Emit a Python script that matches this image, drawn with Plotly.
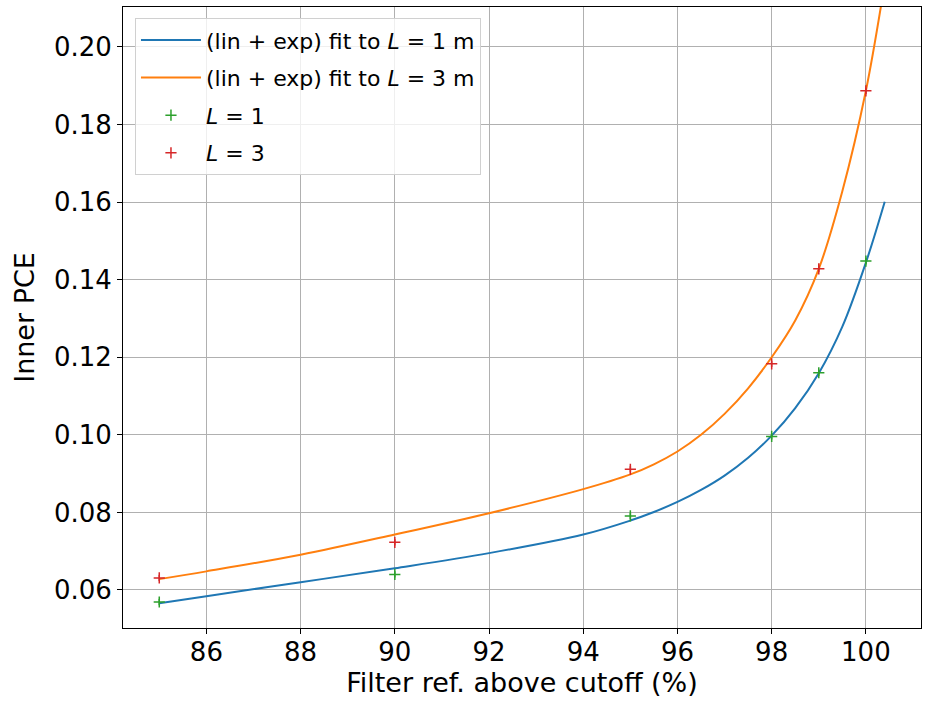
import plotly.graph_objects as go

# Fit curves
x_fit = [85, 86, 88, 90, 92, 94, 95, 95.5, 96, 96.5, 97, 97.5, 98, 98.5, 99, 99.5, 100, 100.4]
fit_L1 = [0.0566, 0.0584, 0.0620, 0.0656, 0.0695, 0.0743, 0.0779, 0.0801, 0.0827, 0.0858,
          0.0895, 0.0941, 0.0998, 0.1069, 0.1159, 0.1279, 0.1444, 0.1601]
fit_L3 = [0.0628, 0.0648, 0.0691, 0.0743, 0.0798, 0.0860, 0.0898, 0.0924, 0.0957, 0.1000,
          0.1054, 0.1120, 0.1200, 0.1295, 0.1428, 0.1628, 0.1887, 0.2165]

# Measured points
x_pts = [85, 90, 95, 98, 99, 100]
pce_L1 = [0.0569, 0.0640, 0.0791, 0.0996, 0.1160, 0.1448]
pce_L3 = [0.0631, 0.0723, 0.0911, 0.1183, 0.1428, 0.1887]
err_L1 = [0.0008, 0.0008, 0.0008, 0.0008, 0.0008, 0.0008]
err_L3 = [0.0008, 0.0008, 0.0008, 0.0008, 0.0008, 0.0008]

BLUE, ORANGE, GREEN, RED = "#1f77b4", "#ff7f0e", "#2ca02c", "#d62728"
FONT = "DejaVu Sans"

fig = go.Figure()
fig.add_trace(go.Scatter(x=x_fit, y=fit_L1, mode="lines",
                         line=dict(color=BLUE, width=2, shape="spline", smoothing=1.0),
                         name="(lin + exp) fit to <i>L</i> = 1 m", legendgroup="a"))
fig.add_trace(go.Scatter(x=x_fit, y=fit_L3, mode="lines",
                         line=dict(color=ORANGE, width=2, shape="spline", smoothing=1.0),
                         name="(lin + exp) fit to <i>L</i> = 3 m", legendgroup="b"))
fig.add_trace(go.Scatter(x=x_pts, y=pce_L1, mode="markers",
                         marker=dict(symbol="cross-thin", size=8, line=dict(color=GREEN, width=1.5), color=GREEN),
                         error_y=dict(type="data", array=err_L1, color=GREEN, thickness=1.5, width=0),
                         name="<i>L</i> = 1", legendgroup="c"))
fig.add_trace(go.Scatter(x=x_pts, y=pce_L3, mode="markers",
                         marker=dict(symbol="cross-thin", size=8, line=dict(color=RED, width=1.5), color=RED),
                         error_y=dict(type="data", array=err_L3, color=RED, thickness=1.5, width=0),
                         name="<i>L</i> = 3", legendgroup="d"))

axis_common = dict(showline=True, linecolor="black", linewidth=1, mirror=True,
                   showgrid=True, gridcolor="#b0b0b0", gridwidth=1,
                   ticks="outside", ticklen=5, tickcolor="black", zeroline=False,
                   tickfont=dict(family=FONT, size=26, color="#000"),
                   title_font=dict(family=FONT, size=27, color="#000"))

fig.update_layout(
    width=932, height=703,
    margin=dict(l=123, r=11, t=7, b=75),
    paper_bgcolor="white", plot_bgcolor="white",
    font=dict(family=FONT, color="#000"),
    showlegend=True,
    legend=dict(x=0.015, y=0.982, xanchor="left", yanchor="top",
                bgcolor="rgba(255,255,255,0.8)", bordercolor="#d0d0d0", borderwidth=1,
                font=dict(family=FONT, size=22, color="#000"), tracegroupgap=6,
                itemwidth=60),
    xaxis=dict(range=[84.23, 101.17], tick0=86, dtick=2, ticklabelstandoff=-4,
               title=dict(text="Filter ref. above cutoff (%)", standoff=4), **axis_common),
    yaxis=dict(range=[0.0502, 0.2103], tick0=0.06, dtick=0.02, tickformat=".2f",
               title=dict(text="Inner PCE", standoff=11), **axis_common),
)

fig.write_html("out.html")
